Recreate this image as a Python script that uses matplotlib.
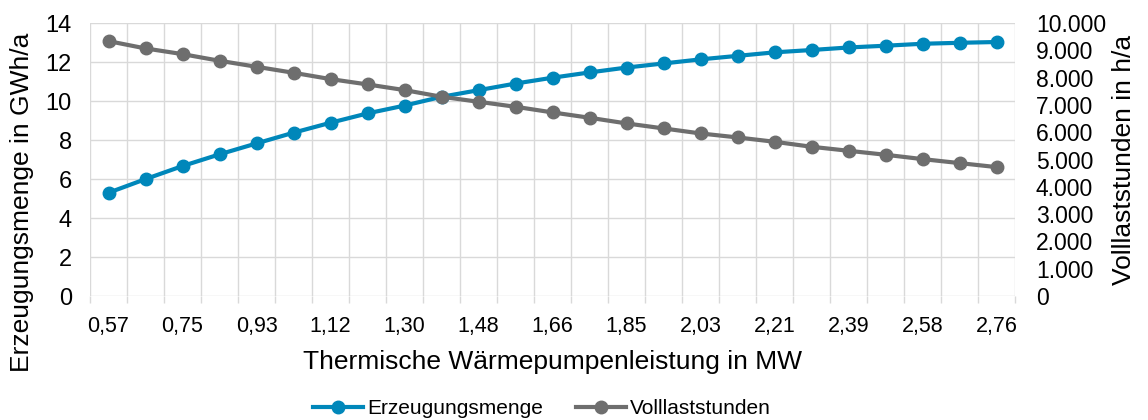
import numpy as np
import matplotlib
matplotlib.use("Agg")
import matplotlib.pyplot as plt
import matplotlib.ticker as ticker

plt.rcParams['font.family'] = ['Liberation Sans', 'DejaVu Sans']

# Thermal heat pump capacity in MW (category labels)
leistung = ["0,57", "0,66", "0,75", "0,84", "0,93", "1,03", "1,12", "1,21", "1,30",
            "1,39", "1,48", "1,57", "1,66", "1,76", "1,85", "1,94", "2,03", "2,12",
            "2,21", "2,30", "2,39", "2,49", "2,58", "2,67", "2,76"]

# Erzeugungsmenge in GWh/a
erzeugung = [5.30, 6.00, 6.67, 7.27, 7.83, 8.38, 8.89, 9.37, 9.77, 10.22, 10.56,
             10.90, 11.20, 11.47, 11.72, 11.93, 12.14, 12.32, 12.50, 12.62, 12.75,
             12.84, 12.94, 12.99, 13.03]

# Volllaststunden in h/a
vollast = [9340, 9072, 8864, 8620, 8400, 8180, 7949, 7753, 7546, 7302, 7118,
           6935, 6728, 6533, 6325, 6142, 5958, 5812, 5653, 5470, 5323, 5177,
           5018, 4872, 4725]

blue = "#0087BA"
grey = "#6E6E6E"
gridc = "#D9D9D9"

fig = plt.figure(figsize=(11.48, 4.2), dpi=100)
ax = fig.add_axes([0.0784, 0.295, 0.8058, 0.65])
ax2 = ax.twinx()

x = np.arange(len(leistung))
l1, = ax.plot(x, erzeugung, color=blue, lw=3, marker="o", ms=9, label="Erzeugungsmenge")
l2, = ax2.plot(x, vollast, color=grey, lw=3, marker="o", ms=9, label="Volllaststunden")

ax.set_xlim(-0.5, len(leistung) - 0.5)
ax.set_ylim(0, 14)
ax2.set_ylim(0, 10000)

# category labels on every other point, ticks/grid at category boundaries
ax.set_xticks(x[::2])
ax.set_xticklabels(leistung[::2])
ax.set_xticks(np.arange(-0.5, len(leistung)), minor=True)
ax.tick_params(axis="x", which="major", length=0, pad=14, labelsize=15.5)
ax.tick_params(axis="x", which="minor", length=5, color=gridc, width=1)
ax.grid(True, axis="x", which="minor", color=gridc, lw=1)

ax.set_yticks(np.arange(0, 15, 2))
ax.grid(True, axis="y", which="major", color=gridc, lw=1)
ax.tick_params(axis="y", length=0, pad=13, labelsize=17)

ax2.set_yticks(np.arange(0, 10001, 1000))
ax2.yaxis.set_major_formatter(ticker.FuncFormatter(lambda v, p: f"{int(v):,}".replace(",", ".")))
ax2.tick_params(axis="y", length=0, pad=15, labelsize=16.5)

for a in (ax, ax2):
    for s in a.spines.values():
        s.set_visible(False)
ax.set_axisbelow(True)

ax.set_xlabel("Thermische Wärmepumpenleistung in MW", fontsize=19, labelpad=10)
ax.set_ylabel("Erzeugungsmenge in GWh/a", fontsize=19)
ax.yaxis.set_label_coords(34 / 1148, 1 - 202 / 420, transform=fig.transFigure)
ax2.set_ylabel("Volllaststunden in h/a", fontsize=19, labelpad=4)

fig.legend(handles=[l1, l2], loc="lower center", bbox_to_anchor=(0.472, -0.04), ncol=2,
           frameon=False, fontsize=15, handlelength=2.4, columnspacing=1.6, handletextpad=0.2)

fig.savefig("out.png", dpi=100)
